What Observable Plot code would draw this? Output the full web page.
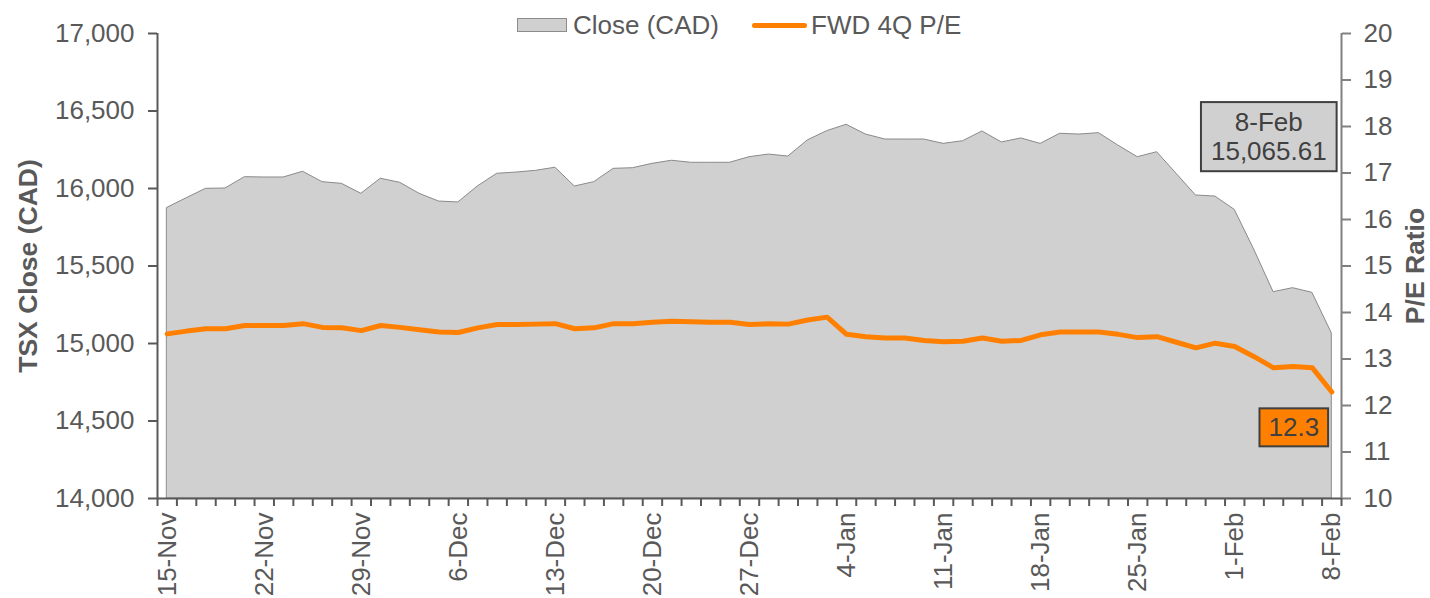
<!DOCTYPE html>
<html>
<head>
<meta charset="utf-8">
<script src="https://cdn.jsdelivr.net/npm/d3@7"></script>
<script src="https://cdn.jsdelivr.net/npm/@observablehq/plot@0.6"></script>
<style>
  body { margin: 0; background: #fff; font-family: "Liberation Sans", Arial, sans-serif; }
  #wrap { position: relative; width: 1430px; height: 598px; overflow: hidden; }
  #wrap svg { position: absolute; left: 0; top: 0; }
  .lg { position: absolute; z-index: 2; }
  .lgtext { font-size: 26px; line-height: 26px; color: #595959; white-space: nowrap; }
</style>
</head>
<body>
<div id="wrap">
  <div class="lg" style="left:517px;top:18px;width:50px;height:14px;box-sizing:border-box;background:#d0d0d0;border:1px solid #8c8c8c;"></div>
  <div class="lg lgtext" style="left:573px;top:12px;">Close (CAD)</div>
  <div class="lg" style="left:752px;top:22.5px;width:55px;height:5px;background:#ff8000;border-radius:2.5px;"></div>
  <div class="lg lgtext" style="left:811px;top:12px;">FWD 4Q P/E</div>
</div>
<script>
// Category tick labels (one every 5 trading days)
const tickLabels = ["15-Nov","22-Nov","29-Nov","6-Dec","13-Dec","20-Dec","27-Dec","4-Jan","11-Jan","18-Jan","25-Jan","1-Feb","8-Feb"];

// S&P/TSX close (CAD), one value per trading day
const closeCAD = [15875,15937,15998,16000,16073,16071,16071,16108,16041,16030,
                  15966,16063,16037,15966,15916,15910,16013,16095,16103,16114,
                  16134,16013,16041,16127,16131,16159,16179,16166,16166,16166,
                  16202,16219,16206,16310,16370,16411,16348,16316,16316,16316,
                  16288,16305,16368,16297,16323,16288,16353,16348,16357,16277,
                  16202,16234,16095,15955,15948,15862,15606,15331,15357,15327,15065.61];

// Forward 4-quarter P/E
const fwdPE = [13.54,13.60,13.65,13.65,13.72,13.72,13.72,13.76,13.68,13.67,
               13.61,13.72,13.68,13.63,13.58,13.57,13.67,13.74,13.74,13.75,
               13.76,13.65,13.67,13.76,13.76,13.79,13.81,13.80,13.79,13.79,
               13.74,13.76,13.75,13.84,13.90,13.53,13.48,13.45,13.45,13.40,
               13.37,13.38,13.45,13.38,13.40,13.52,13.58,13.58,13.58,13.53,
               13.46,13.48,13.36,13.24,13.34,13.27,13.05,12.81,12.84,12.81,12.29];

const leftTicks = [14000,14500,15000,15500,16000,16500,17000];
const rightTicks = [10,11,12,13,14,15,16,17,18,19,20];

const n = closeCAD.length;
const data = closeCAD.map((c, i) => ({i, close: c, pe: fwdPE[i]}));
const last = data[n - 1];
// secondary axis mapping (P/E 10..20 onto close 14000..17000)
const peToY = d3.scaleLinear().domain([10, 20]).range([14000, 17000]);
const labelIdx = tickLabels.map((_, k) => k * 5);
const bandEdges = d3.range(-0.5, n, 1);

const font = "Liberation Sans, Arial, sans-serif";
const FS = 26;
const closeLabel = `${tickLabels[tickLabels.length - 1]}\n${d3.format(",.2f")(last.close)}`;
const peLabel = d3.format(".1f")(last.pe);

const chart = Plot.plot({
  width: 1430,
  height: 598,
  marginLeft: 157,
  marginRight: 89,
  marginTop: 33,
  marginBottom: 100,
  style: {fontFamily: font, fontSize: FS + "px", color: "#595959", background: "transparent", overflow: "visible"},
  x: {domain: [-0.5, n - 0.5], axis: null},
  y: {domain: [14000, 17000], axis: null},
  marks: [
    Plot.areaY(data, {x: "i", y1: 14000, y2: "close", fill: "#d0d0d0", stroke: "#8a8a8a", strokeWidth: 1}),
    Plot.lineY(data, {x: "i", y: d => peToY(d.pe), stroke: "#ff8000", strokeWidth: 5, strokeLinejoin: "round", strokeLinecap: "round"}),
    // left axis
    Plot.axisY({anchor: "left", ticks: leftTicks, tickSize: 9, tickPadding: 14, tickFormat: d3.format(","),
                stroke: "#595959", strokeWidth: 2, fill: "#595959", fontSize: FS, label: null}),
    // right axis
    Plot.axisY({anchor: "right", ticks: rightTicks.map(v => peToY(v)), tickSize: 9, tickPadding: 13,
                tickFormat: v => String(Math.round(peToY.invert(v))),
                stroke: "#808080", strokeWidth: 2, fill: "#595959", fontSize: FS, label: null}),
    // bottom category ticks (band edges)
    Plot.axisX({anchor: "bottom", ticks: bandEdges, tickSize: 8, tickFormat: () => "", stroke: "#595959", strokeWidth: 2, label: null}),
    // bottom labels
    Plot.axisX({anchor: "bottom", ticks: labelIdx, tickSize: 0, tickPadding: 14, tickRotate: -90,
                tickFormat: d => tickLabels[Math.round(d / 5)], fill: "#595959", fontSize: FS, label: null}),
    // axis lines
    Plot.ruleX([-0.5], {stroke: "#595959", strokeWidth: 2}),
    Plot.ruleX([n - 0.5], {stroke: "#808080", strokeWidth: 2}),
    Plot.ruleY([14000], {stroke: "#595959", strokeWidth: 2}),
    // axis titles
    Plot.text(["TSX Close (CAD)"], {frameAnchor: "left", dx: -129, rotate: -90, textAnchor: "middle", fontWeight: "bold", fontSize: 26.5, fill: "#595959"}),
    Plot.text(["P/E Ratio"], {frameAnchor: "right", dx: 74, rotate: -90, textAnchor: "middle", fontWeight: "bold", fontSize: 26.5, fill: "#595959"}),
    // annotations (boxes added after render)
    Plot.text([last], {x: "i", y: "close", text: () => closeLabel,
                       dx: -63, dy: -197, fontSize: FS, lineHeight: 1.12, fill: "#404040"}),
    Plot.text([last], {x: "i", y: d => peToY(d.pe), text: () => peLabel,
                       dx: -38, dy: 36, fontSize: FS, fill: "#404040"})
  ]
});

document.getElementById("wrap").appendChild(chart);

// draw boxes behind the annotation texts
const allTexts = Array.from(chart.querySelectorAll("text"));
const flat = s => s.replace(/\s+/g, "");
const annos = [
  {t: allTexts.find(t => flat(t.textContent) === flat(closeLabel)), fill: "#d0d0d0", px: 10, py: 5},
  {t: allTexts.find(t => flat(t.textContent) === peLabel), fill: "#ff8000", px: 9, py: 4}
];
for (const a of annos) {
  if (!a.t) continue;
  const bb = a.t.getBBox();
  const r = document.createElementNS("http://www.w3.org/2000/svg", "rect");
  const tr = a.t.getAttribute("transform");
  if (tr) r.setAttribute("transform", tr);
  r.setAttribute("x", bb.x - a.px);
  r.setAttribute("y", bb.y - a.py);
  r.setAttribute("width", bb.width + 2 * a.px);
  r.setAttribute("height", bb.height + 2 * a.py);
  r.setAttribute("fill", a.fill);
  r.setAttribute("stroke", "#404040");
  r.setAttribute("stroke-width", 2);
  a.t.parentNode.insertBefore(r, a.t);
}
</script>
</body>
</html>
